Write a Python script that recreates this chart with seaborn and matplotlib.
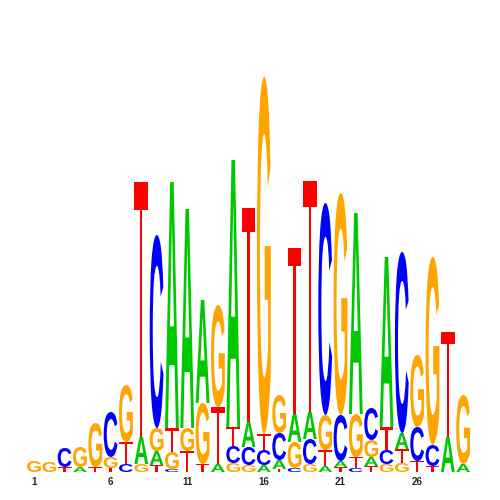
import numpy as np
import pandas as pd
import matplotlib
matplotlib.use("Agg")
import matplotlib.pyplot as plt
import seaborn as sns
from matplotlib.textpath import TextPath
from matplotlib.patches import PathPatch
from matplotlib.font_manager import FontProperties
from matplotlib.transforms import Affine2D

# information content (bits) of each base at each motif position
positions = list(range(1, 30))
A_bits = [0, 0, 0, 0.025, 0, 0, 0, 0.135, 0.07, 1.23, 1.095, 0.515, 0.04, 1.335, 0.125,
          0.035, 0.045, 0.14, 0.135, 0.03, 0.03, 1.005, 0.045, 0.85, 0.08, 0, 0, 0.175, 0.04]
C_bits = [0, 0, 0.095, 0, 0, 0.225, 0.04, 0, 0.965, 0.015, 0, 0, 0, 0.085, 0.09,
          0.075, 0.135, 0.02, 0.125, 1.06, 0.23, 0.02, 0.16, 0.07, 0.905, 0.17, 0.105, 0, 0]
G_bits = [0.055, 0.05, 0, 0.1, 0.22, 0.055, 0.285, 0.04, 0.115, 0.085, 0.115, 0.305, 0.51, 0.045, 0.035,
          1.785, 0.19, 0.13, 0.04, 0.175, 1.11, 0.215, 0.085, 0.04, 0.045, 0.36, 0.94, 0, 0.345]
T_bits = [0, 0, 0.025, 0, 0.025, 0.02, 0.11, 1.275, 0.035, 0.12, 0.105, 0.04, 0.285, 0.095, 1.07,
          0.08, 0.015, 0.83, 1.155, 0.08, 0.025, 0.055, 0.03, 0.115, 0.07, 0.055, 0.03, 0.525, 0]
tick_positions = [1, 6, 11, 16, 21, 26]

base_colors = {"A": "#00C800", "C": "#0000FF", "G": "#FFA500", "T": "#FF0000"}

sns.set_style("white")
plt.rcParams["font.family"] = ["Liberation Sans", "DejaVu Sans"]

fp_bold = FontProperties(family="Liberation Sans", weight="bold")
fp_reg = FontProperties(family="Liberation Sans", weight="normal")


def draw_letter(ax, ch, xc, y0, w, h, color):
    """Stretch a glyph to fill the box [xc-w/2, xc+w/2] x [y0, y0+h]"""
    # the T in the logo has a thin stem and a thin bar, closer to the regular cut
    tp = TextPath((0, 0), ch, size=1, prop=fp_reg if ch == "T" else fp_bold)
    bb = tp.get_extents()
    t = Affine2D().translate(-bb.x0, -bb.y0).scale(w / bb.width, h / bb.height).translate(xc - w / 2, y0)
    ax.add_patch(PathPatch(t.transform_path(tp), facecolor=color, edgecolor="none", lw=0))


df = pd.DataFrame({"pos": positions, "A": A_bits, "C": C_bits, "G": G_bits, "T": T_bits})
long = df.melt(id_vars="pos", var_name="base", value_name="bits")

fig = plt.figure(figsize=(5, 5), dpi=100)
ax = fig.add_axes([0.0526, 0.056, 0.889, 0.8])

# stack letters in each column, smallest at the bottom
for pos, grp in long.groupby("pos"):
    grp = grp[grp["bits"] > 0].sort_values("bits")
    y = 0.0
    for _, row in grp.iterrows():
        draw_letter(ax, row["base"], pos, y, 0.9, row["bits"], base_colors[row["base"]])
        y += row["bits"]

ax.set_xlim(0.5, 29.5)
ax.set_ylim(0, 2)
ax.set_xticks(tick_positions)
ax.set_xticklabels([str(p) for p in tick_positions], fontsize=7, fontweight="bold")
ax.set_yticks([])
ax.tick_params(axis="x", length=0, pad=3.5)
sns.despine(ax=ax, left=True, bottom=True)

fig.savefig("out.png", dpi=100)
